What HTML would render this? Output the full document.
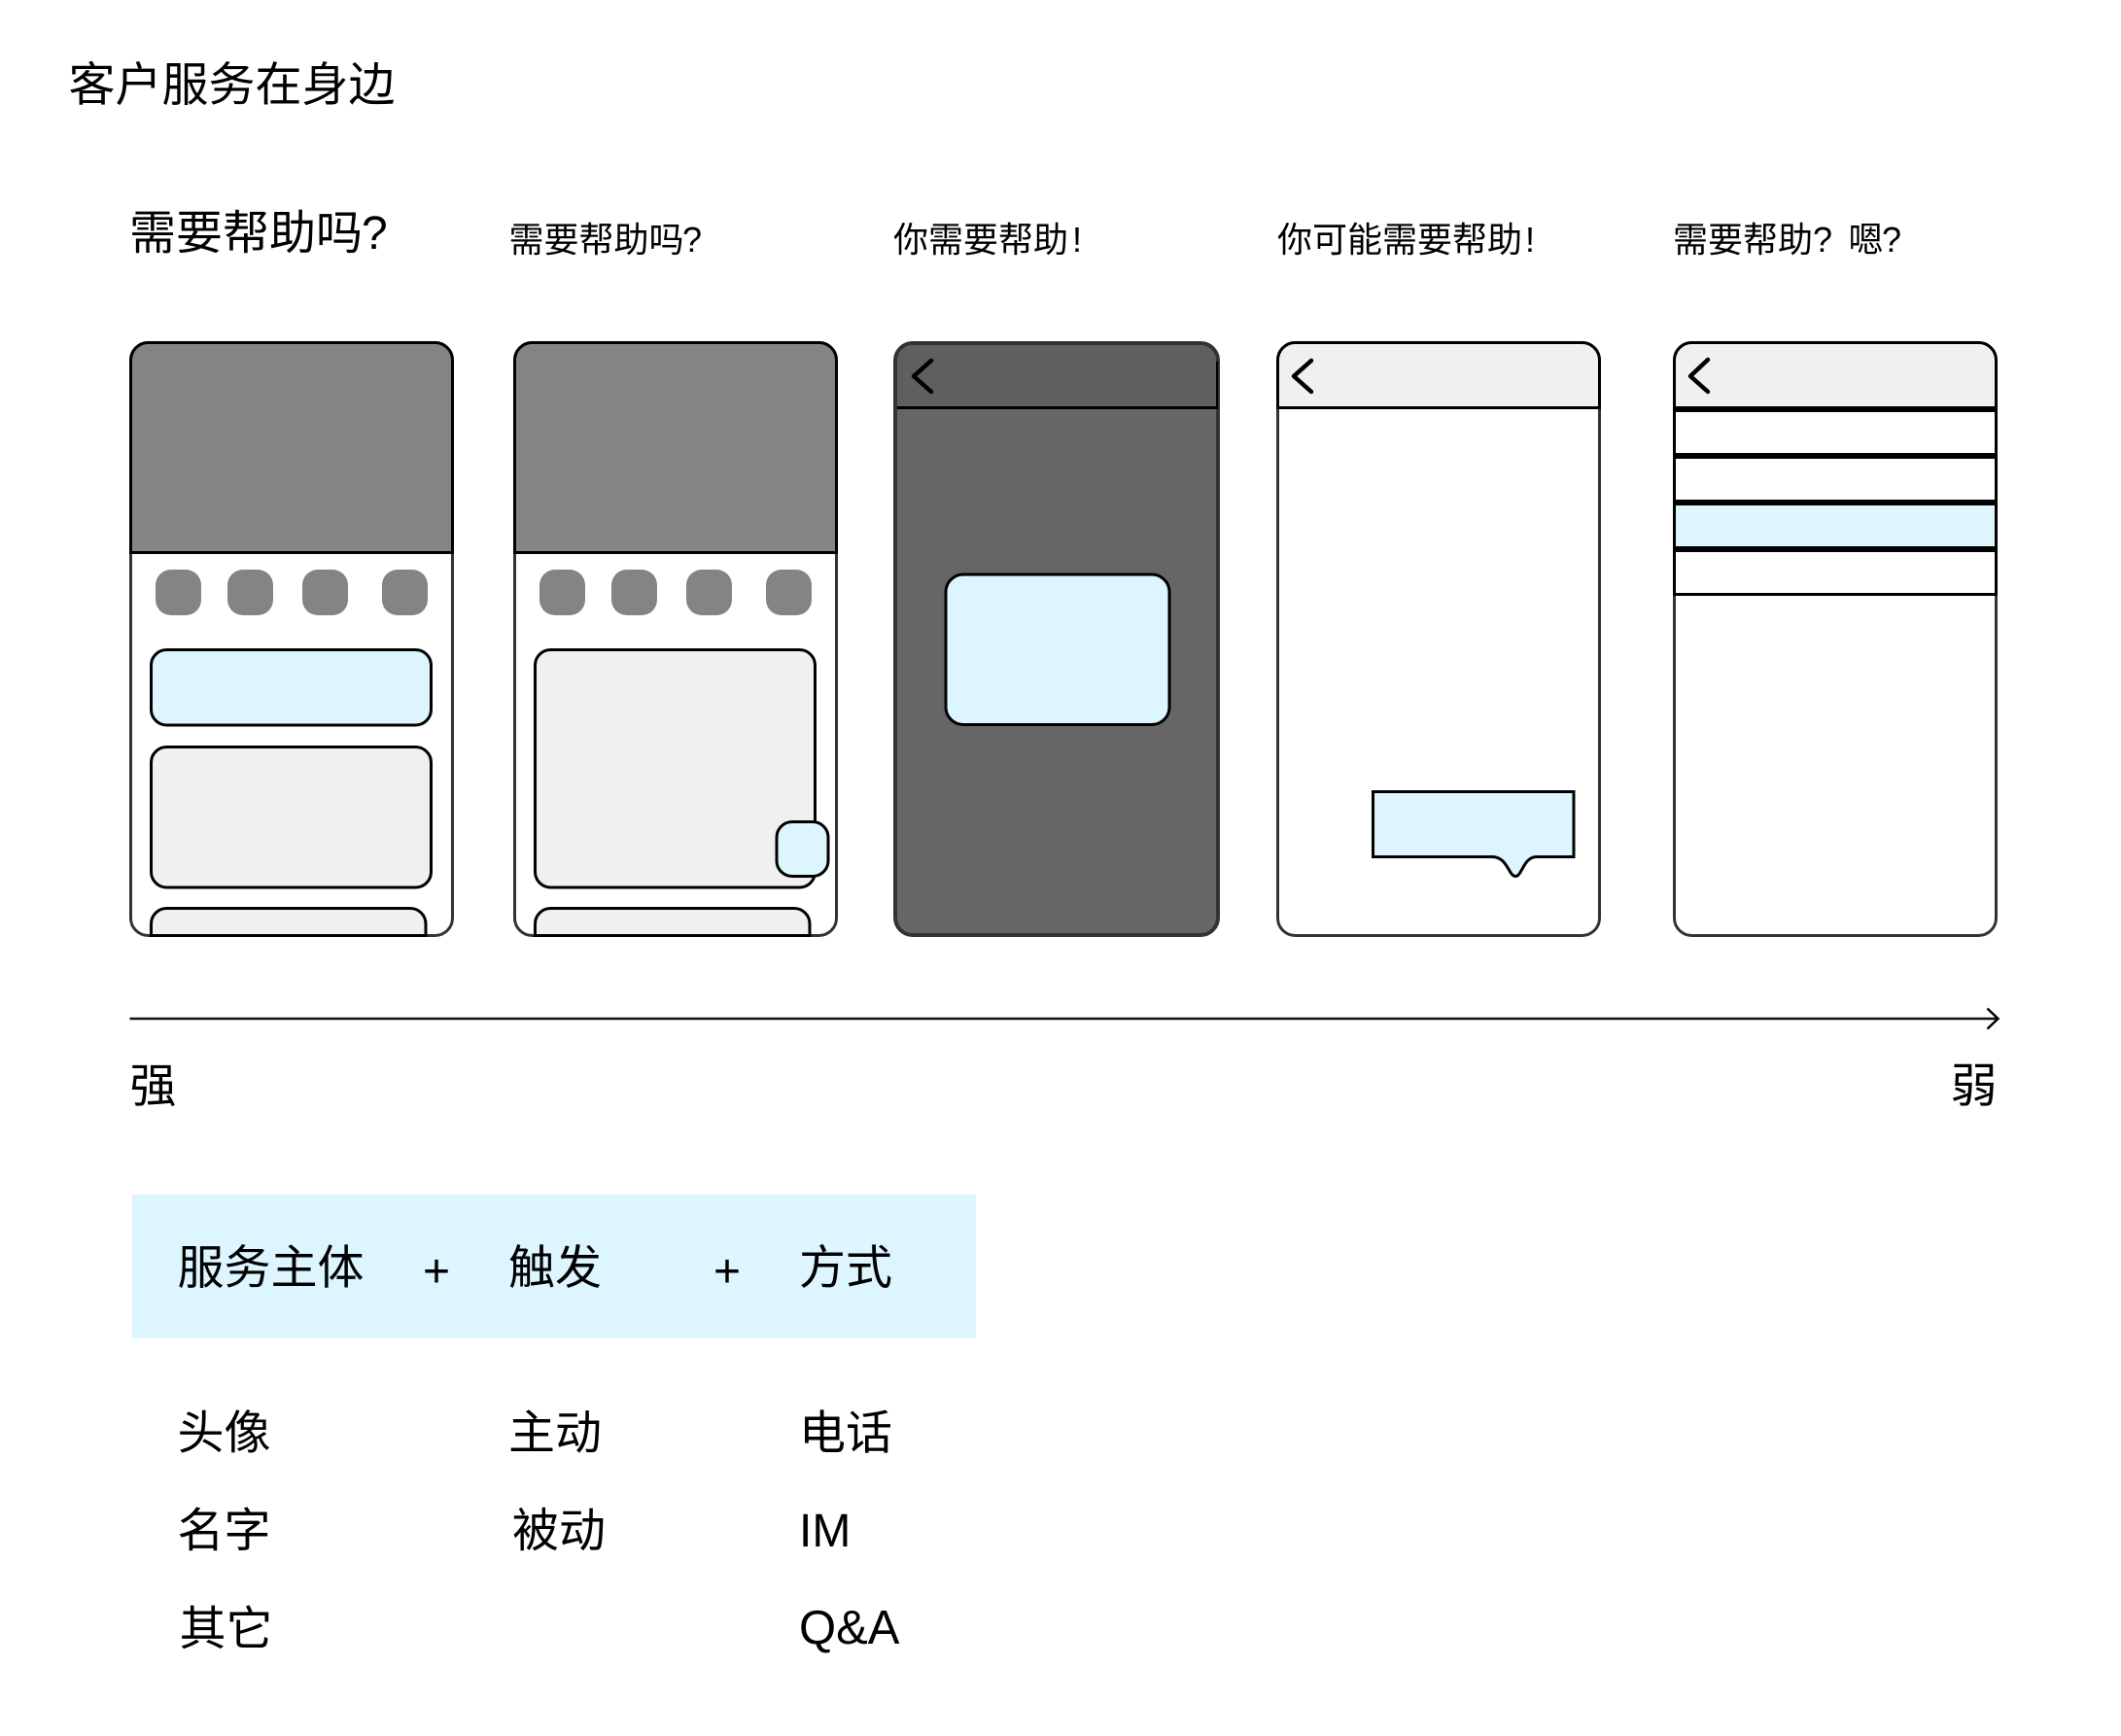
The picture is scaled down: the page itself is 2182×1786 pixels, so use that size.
<!DOCTYPE html>
<html><head><meta charset="utf-8"><style>
html,body{margin:0;padding:0;background:#fff;width:2182px;height:1786px;overflow:hidden}
svg{display:block}
text{font-family:"Liberation Sans","Noto Sans CJK SC",sans-serif;font-weight:400;fill:#000}
.a{font-size:48px}.b{font-size:36px}
</style></head><body>
<svg width="2182" height="1786" viewBox="0 0 2182 1786" xmlns="http://www.w3.org/2000/svg">
<rect width="2182" height="1786" fill="#fff"/>
<text class="a" x="70.500" y="103.500">客户服务在身边</text>
<text class="a" x="133" y="256">需要帮助吗<tspan dx="-1">?</tspan></text>
<text class="b" x="523.500" y="259">需要帮助吗<tspan dx="-1.500">?</tspan></text>
<text class="b" x="919" y="259">你需要帮助<tspan dx="4">!</tspan></text>
<text class="b" x="1314" y="259">你可能需要帮助<tspan dx="3">!</tspan></text>
<text class="b" x="1721" y="259">需要帮助?</text>
<text class="b" x="1901.500" y="259">嗯<tspan dx="-1.500">?</tspan></text>

<!-- phone 1 -->
<rect x="134.500" y="352.500" width="331" height="610" rx="18" fill="#fff" stroke="#333" stroke-width="3"/>
<path d="M134.500 568.500V370.500a18 18 0 0 1 18-18h295a18 18 0 0 1 18 18V568.500Z" fill="#848484" stroke="#000" stroke-width="3"/>
<g fill="#848484"><rect x="160" y="586" width="47" height="47" rx="16"/><rect x="234" y="586" width="47" height="47" rx="16"/><rect x="311" y="586" width="47" height="47" rx="16"/><rect x="393" y="586" width="47" height="47" rx="16"/></g>
<rect x="155.500" y="668.500" width="288" height="77.500" rx="16" fill="#dcf5ff" stroke="#000" stroke-width="3"/>
<rect x="155.500" y="768.500" width="288" height="144.500" rx="16" fill="#f0f0f0" stroke="#000" stroke-width="3"/>
<path d="M155.500 962.500V950.500a16 16 0 0 1 16-16h250.500a16 16 0 0 1 16 16V962.500Z" fill="#f0f0f0" stroke="#000" stroke-width="3"/>

<!-- phone 2 -->
<rect x="529.500" y="352.500" width="331" height="610" rx="18" fill="#fff" stroke="#333" stroke-width="3"/>
<path d="M529.500 568.500V370.500a18 18 0 0 1 18-18h295a18 18 0 0 1 18 18V568.500Z" fill="#848484" stroke="#000" stroke-width="3"/>
<g fill="#848484"><rect x="555" y="586" width="47" height="47" rx="16"/><rect x="629" y="586" width="47" height="47" rx="16"/><rect x="706" y="586" width="47" height="47" rx="16"/><rect x="788" y="586" width="47" height="47" rx="16"/></g>
<rect x="550.500" y="668.500" width="288" height="244.500" rx="16" fill="#f0f0f0" stroke="#000" stroke-width="3"/>
<path d="M550.500 962.500V950.500a16 16 0 0 1 16-16h250.500a16 16 0 0 1 16 16V962.500Z" fill="#f0f0f0" stroke="#000" stroke-width="3"/>
<rect x="799" y="845.500" width="53" height="56" rx="16" fill="#dcf5ff" stroke="#000" stroke-width="3"/>

<!-- phone 3 -->
<rect x="921" y="353" width="332" height="609" rx="18" fill="#666" stroke="#333" stroke-width="4"/>
<path d="M923 419.500V371a16 16 0 0 1 16-16h296a16 16 0 0 1 16 16V419.500Z" fill="#5f5f5f"/>
<path d="M923 419.500H1251" stroke="#000" stroke-width="3" fill="none"/>
<path d="M1252 372V421" stroke="#000" stroke-width="2" fill="none"/>
<rect x="973" y="591" width="230" height="154.500" rx="18" fill="#dcf5ff" stroke="#000" stroke-width="3"/>
<path d="M958 371L940 387L958 403" fill="none" stroke="#000" stroke-width="4.500" stroke-linecap="round" stroke-linejoin="round"/>

<!-- phone 4 -->
<rect x="1314.500" y="352.500" width="331" height="610" rx="18" fill="#fff" stroke="#333" stroke-width="3"/>
<path d="M1314.500 419.500V370.500a18 18 0 0 1 18-18h295a18 18 0 0 1 18 18V419.500Z" fill="#f0f0f0" stroke="#000" stroke-width="3"/>
<path d="M1349 371L1331 387L1349 403" fill="none" stroke="#000" stroke-width="4.500" stroke-linecap="round" stroke-linejoin="round"/>
<path d="M1412.500 814.500H1619V881.500H1581C1567 881.500 1566 901.500 1559 901.500C1552 901.500 1551 881.500 1535 881.500H1412.500Z" fill="#dcf5ff" stroke="#000" stroke-width="3"/>

<!-- phone 5 -->
<rect x="1722.500" y="352.500" width="331" height="610" rx="18" fill="#fff" stroke="#333" stroke-width="3"/>
<path d="M1722.500 421V370.500a18 18 0 0 1 18-18h295a18 18 0 0 1 18 18V421Z" fill="#f0f0f0" stroke="#000" stroke-width="3"/>
<rect x="1724" y="520" width="328" height="42" fill="#dcf5ff"/>
<path d="M1722.500 421V612M2053.500 421V612" stroke="#000" stroke-width="3" fill="none"/>
<g fill="#000"><rect x="1721" y="418" width="334" height="6"/><rect x="1721" y="466" width="334" height="6"/><rect x="1721" y="514" width="334" height="6"/><rect x="1721" y="562" width="334" height="6"/><rect x="1721" y="610" width="334" height="3"/></g>
<path d="M1757 370L1739 387L1757 403" fill="none" stroke="#000" stroke-width="4.500" stroke-linecap="round" stroke-linejoin="round"/>

<!-- axis -->
<path d="M133.500 1048H2055" stroke="#111" stroke-width="2.500" fill="none"/>
<path d="M2044.500 1037.500L2055.500 1048L2044.500 1058.500" fill="none" stroke="#000" stroke-width="2.500"/>
<text class="a" x="133.500" y="1133.500">强</text>
<text class="a" x="2006.500" y="1133.500">弱</text>

<!-- table -->
<rect x="136" y="1229" width="868" height="148" fill="#dcf5ff"/>
<text class="a" x="182.500" y="1320.500">服务主体</text>
<text class="a" x="435" y="1324" font-size="40">+</text>
<text class="a" x="523" y="1320.500">触发</text>
<text class="a" x="734" y="1324" font-size="40">+</text>
<text class="a" x="822" y="1320.500">方式</text>
<text class="a" x="182.500" y="1490.500">头像</text>
<text class="a" x="523" y="1490.500">主动</text>
<text class="a" x="822" y="1490.500">电话</text>
<text class="a" x="182.500" y="1591">名字</text>
<text class="a" x="527" y="1591">被动</text>
<text class="a" x="822" y="1591">IM</text>
<text class="a" x="184.500" y="1692">其它</text>
<text x="822" y="1691" font-size="49">Q&amp;A</text>
</svg>
</body></html>
